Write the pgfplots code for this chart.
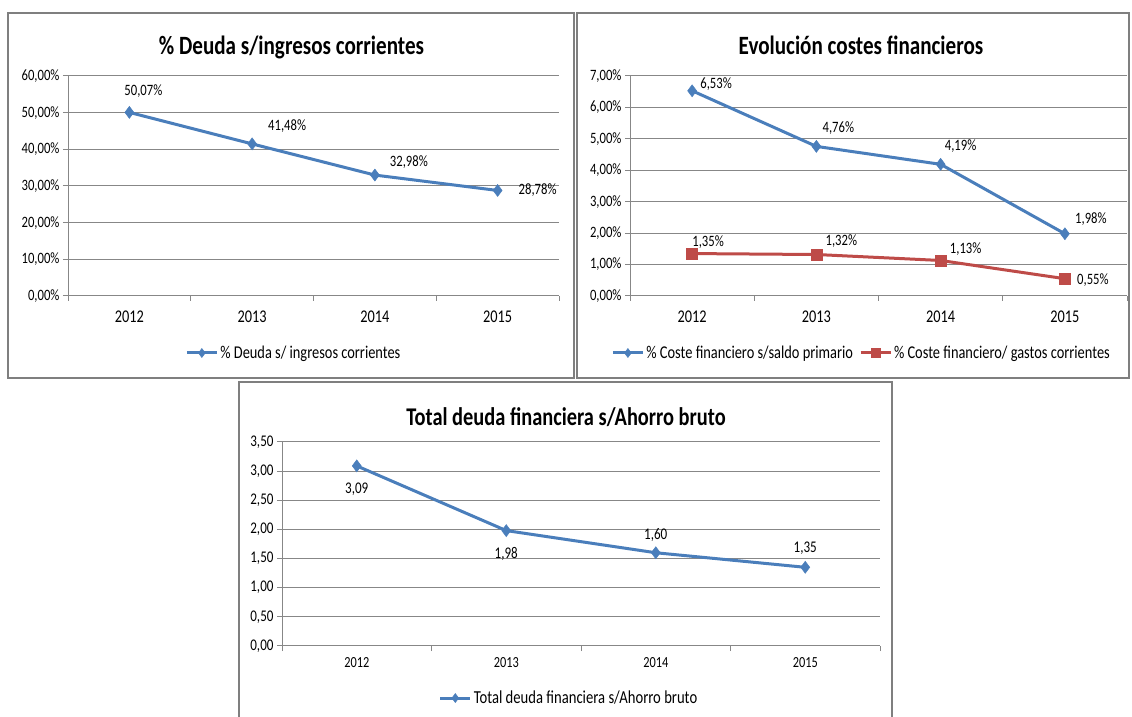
\documentclass[border=0pt]{standalone}
\usepackage{fontspec}
\setmainfont{Carlito}[FakeStretch=0.8]
\usepackage{pgfplots}
\pgfplotsset{compat=1.18}
\definecolor{sblue}{HTML}{4A7EBB}
\definecolor{sred}{HTML}{BE4B48}
\definecolor{gridg}{HTML}{878787}
\definecolor{frameg}{HTML}{7F7F7F}
\newcommand{\fs}[1]{\fontsize{#1}{#1}\selectfont}
\pgfplotsset{
  xl/.style={
    scale only axis,
    axis lines*=left,
    axis line style={gridg, line width=1pt, -},
    xmin=0.5, xmax=4.5,
    xtick={0.5,1.5,2.5,3.5,4.5}, xticklabels={},
    extra x ticks={1,2,3,4}, extra x tick labels={2012,2013,2014,2015},
    extra x tick style={major tick length=0pt},
    tick align=outside, major tick length=5pt,
    tick style={gridg, line width=1pt},
    ymin=0,
    ymajorgrids, grid style={gridg, line width=1pt},
    clip=false,
    legend style={draw=none, fill=none, anchor=center, legend columns=-1, inner sep=0pt,
      /tikz/every even column/.append style={column sep=4pt}},
    legend image code/.code={\draw[mark repeat=2,mark phase=2,##1, mark size=4.5pt] plot coordinates {(0pt,0pt) (15pt,0pt) (30pt,0pt)};},
  },
  sb/.style={sblue, line width=3pt, mark=diamond*, mark size=6pt, mark options={solid, line width=0.5pt}},
  sr/.style={sred, line width=3pt, mark=square*, mark size=5.5pt, mark options={solid, line width=0.5pt}},
}
\begin{document}
\begin{tikzpicture}
\path[use as bounding box] (0pt,0pt) rectangle (1132pt,717pt);
% frames
\draw[frameg, line width=1.5pt] (8pt,704pt) rectangle (574pt,339pt);
\draw[frameg, line width=1.5pt] (577pt,704pt) rectangle (1129pt,339pt);
\draw[frameg, line width=1.5pt] (239pt,335pt) rectangle (892pt,-10pt);
% titles
\node[anchor=base, font=\fs{26.4}\bfseries] at (291.5pt,662pt) {\% Deuda s/ingresos corrientes};
\node[anchor=base, font=\fs{26.4}\bfseries] at (861pt,662pt) {Evolución costes financieros};
\node[anchor=base, font=\fs{25.5}\bfseries] at (566pt,291.5pt) {Total deuda financiera s/Ahorro bruto};

% Axis 1
\begin{axis}[xl, at={(68pt,421pt)}, anchor=south west, width=491pt, height=220pt,
  ymax=60, ytick={0,10,20,30,40,50,60},
  yticklabels={{0,00\%},{10,00\%},{20,00\%},{30,00\%},{40,00\%},{50,00\%},{60,00\%}},
  yticklabel style={font=\fs{15.8}}, xticklabel style={font=\fs{17.9}, yshift=-11pt},
  legend style={at={(0.46,-0.259)}, font=\fs{18}}]
\addplot[sb] coordinates {(1,50.07) (2,41.48) (3,32.98) (4,28.78)};
\addlegendentry{\% Deuda s/ ingresos corrientes}
\node[font=\fs{15.8}, xshift=14pt, yshift=21pt] at (axis cs:1,50.07) {50,07\%};
\node[font=\fs{15.8}, xshift=35pt, yshift=18pt] at (axis cs:2,41.48) {41,48\%};
\node[font=\fs{15.8}, xshift=34pt, yshift=13pt] at (axis cs:3,32.98) {32,98\%};
\node[font=\fs{15.8}, xshift=40pt, yshift=0pt] at (axis cs:4,28.78) {28,78\%};
\end{axis}

% Axis 2
\begin{axis}[xl, at={(630pt,421pt)}, anchor=south west, width=497pt, height=220pt,
  ymax=7, ytick={0,1,2,3,4,5,6,7},
  yticklabels={{0,00\%},{1,00\%},{2,00\%},{3,00\%},{4,00\%},{5,00\%},{6,00\%},{7,00\%}},
  yticklabel style={font=\fs{15.8}}, xticklabel style={font=\fs{17.9}, yshift=-11pt},
  legend style={at={(0.466,-0.259)}, font=\fs{18}}]
\addplot[sb] coordinates {(1,6.53) (2,4.76) (3,4.19) (4,1.98)};
\addlegendentry{\% Coste financiero s/saldo primario}
\addplot[sr] coordinates {(1,1.35) (2,1.32) (3,1.13) (4,0.55)};
\addlegendentry{\% Coste financiero/ gastos corrientes}
\node[font=\fs{15.8}, xshift=24pt, yshift=7pt] at (axis cs:1,6.53) {6,53\%};
\node[font=\fs{15.8}, xshift=22pt, yshift=18pt] at (axis cs:2,4.76) {4,76\%};
\node[font=\fs{15.8}, xshift=20pt, yshift=18pt] at (axis cs:3,4.19) {4,19\%};
\node[font=\fs{15.8}, xshift=26pt, yshift=15pt] at (axis cs:4,1.98) {1,98\%};
\node[font=\fs{15.8}, xshift=16pt, yshift=11pt] at (axis cs:1,1.35) {1,35\%};
\node[font=\fs{15.8}, xshift=25pt, yshift=13pt] at (axis cs:2,1.32) {1,32\%};
\node[font=\fs{15.8}, xshift=25pt, yshift=11pt] at (axis cs:3,1.13) {1,13\%};
\node[font=\fs{15.8}, xshift=28pt, yshift=-1pt] at (axis cs:4,0.55) {0,55\%};
\end{axis}

% Axis 3
\begin{axis}[xl, at={(282pt,71pt)}, anchor=south west, width=598pt, height=204pt,
  ymax=3.5, ytick={0,0.5,1,1.5,2,2.5,3,3.5},
  yticklabels={{0,00},{0,50},{1,00},{1,50},{2,00},{2,50},{3,00},{3,50}},
  yticklabel style={font=\fs{16.3}}, xticklabel style={font=\fs{15.4}, yshift=-8pt},
  legend style={at={(0.48,-0.255)}, font=\fs{18.3}}]
\addplot[sb] coordinates {(1,3.09) (2,1.98) (3,1.60) (4,1.35)};
\addlegendentry{Total deuda financiera s/Ahorro bruto}
\node[font=\fs{16.3}, yshift=-23pt] at (axis cs:1,3.09) {3,09};
\node[font=\fs{16.3}, yshift=-23pt] at (axis cs:2,1.98) {1,98};
\node[font=\fs{16.3}, yshift=18pt] at (axis cs:3,1.60) {1,60};
\node[font=\fs{16.3}, yshift=19pt] at (axis cs:4,1.35) {1,35};
\end{axis}
\end{tikzpicture}
\end{document}
